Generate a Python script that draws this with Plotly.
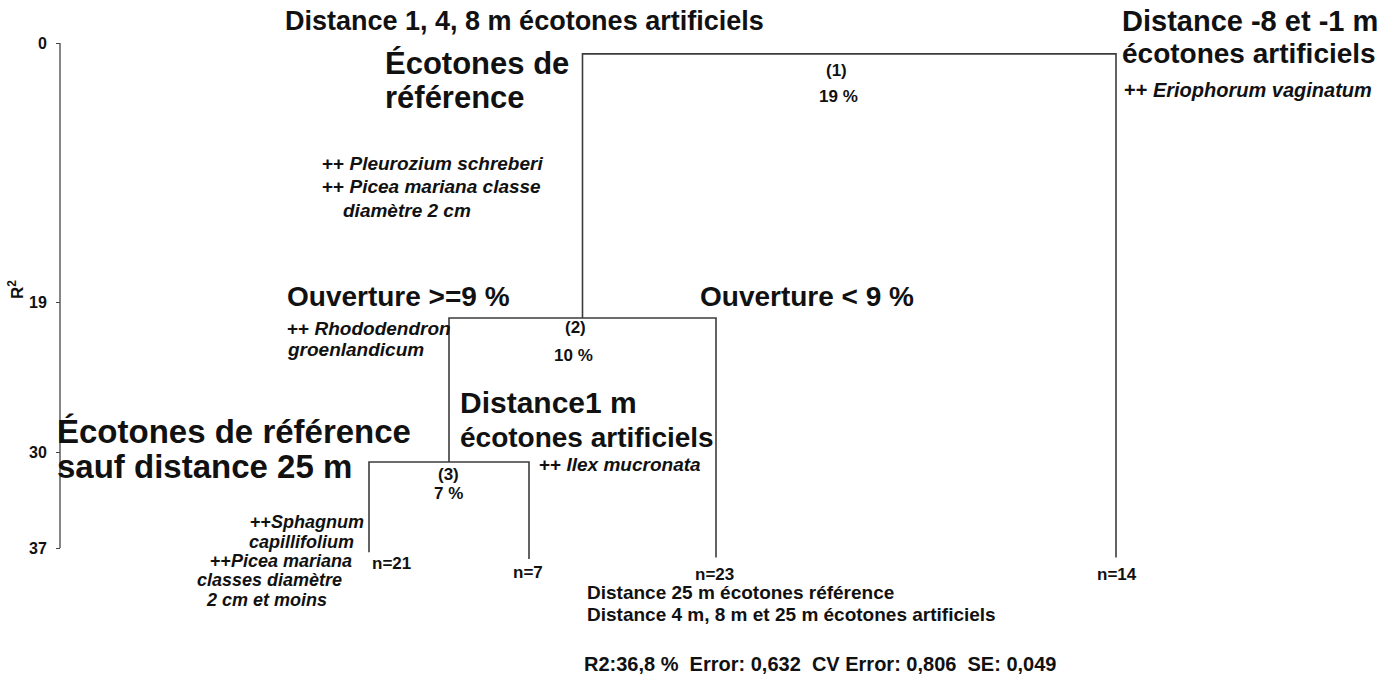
import plotly.graph_objects as go

# ---------------- data ----------------
leaf_labels = ["n=21", "n=7", "n=23", "n=14"]
leaf_r2 = [37.3, 37.8, 37.7, 37.7]          # bottom of each leaf branch (R2 scale)
node_names = ["(3)", "(2)", "(1)"]
node_r2 = [30.7, 20.15, 0.8]                 # height of each split (R2 scale)
node_pct = ["7 %", "10 %", "19 %"]
# children of each split: ('L', i) = leaf i, ('N', j) = split j
node_children = [(("L", 0), ("L", 1)), (("N", 0), ("L", 2)), (("N", 1), ("L", 3))]
r2_ticks = [0, 19, 30, 37]
r2_ticktext = ["0", "19", "30", "37"]
stats_text = "R2:36,8 %  Error: 0,632  CV Error: 0,806  SE: 0,049"

# ---------------- layout helpers ----------------
W, H = 1398, 682
leaf_pos = [369, 529, 716, 1116]   # horizontal placement of leaves (layout)
PX_PER_UNIT = 13.65
Y0_PX = 43
y_top = -Y0_PX / PX_PER_UNIT
y_bot = (H - Y0_PX) / PX_PER_UNIT
FONT = "Arial, Liberation Sans, sans-serif"
INK = "#111111"

# build dendrogram segments
node_x = []
xs, ys = [], []
def child_xy(c):
    kind, i = c
    if kind == "L":
        return leaf_pos[i], leaf_r2[i]
    return node_x[i], node_r2[i]

for j, (a, b) in enumerate(node_children):
    ax, ay = child_xy(a)
    bx, by = child_xy(b)
    h = node_r2[j]
    node_x.append((ax + bx) / 2)
    xs += [ax, ax, bx, bx, None]
    ys += [ay, h, h, by, None]

fig = go.Figure()
fig.add_trace(go.Scatter(x=xs, y=ys, mode="lines",
                         line=dict(color="#3c3c3c", width=1.6),
                         hoverinfo="skip", showlegend=False))

ann = []
def txt(text, px, py, size, xanchor="left", bold=True, italic=False):
    t = text
    if italic:
        t = "<i>" + t + "</i>"
    ann.append(dict(text=t, x=px / W, y=1 - py / H, xref="paper", yref="paper",
                    xanchor=xanchor, yanchor="middle", showarrow=False,
                    font=dict(family=FONT, size=size, color=INK,
                              weight="bold" if bold else "normal")))

# split labels (node number + percentage) from data
node_label_pos = [((448, 474), (449, 493)), ((575, 327), (573, 355)), ((836, 70), (838, 97))]
for j in range(len(node_names)):
    (nx, ny), (px_, py_) = node_label_pos[j]
    txt(node_names[j], nx, ny, 17, "center")
    txt(node_pct[j], px_, py_, 17, "center")

# leaf labels
leaf_label_pos = [(370, 563, "left"), (528, 572, "center"), (714, 574, "center"), (1117, 574, "center")]
for lab, (lx, ly, anc) in zip(leaf_labels, leaf_label_pos):
    txt(lab, lx, ly, 17, anc)

# headings
txt("Distance 1, 4, 8 m écotones artificiels", 283, 21, 27)
txt("Écotones de", 383, 63, 31)
txt("référence", 383, 98, 31)
txt("Distance -8 et -1 m", 1120, 21, 29)
txt("écotones artificiels", 1120, 53, 28)
txt("++ <i>Eriophorum vaginatum</i>", 1122, 90, 20)

txt("++ <i>Pleurozium schreberi</i>", 320, 163, 19)
txt("++ <i>Picea mariana classe</i>", 320, 187, 19)
txt("<i>diamètre 2 cm</i>", 341, 211, 19)

txt("Ouverture >=9 %", 285, 296, 28)
txt("++ <i>Rhododendron</i>", 285, 328, 19)
txt("<i>groenlandicum</i>", 285, 349, 19)
txt("Ouverture < 9 %", 698, 296, 28)

txt("Distance1 m", 458, 402, 30)
txt("écotones artificiels", 458, 437, 28)
txt("++ <i>Ilex mucronata</i>", 703, 465, 19, "right")

txt("Écotones de référence", 55, 431, 33)
txt("sauf distance 25 m", 55, 467, 33)

txt("++<i>Sphagnum</i>", 366, 522, 18, "right")
txt("<i>capillifolium</i>", 356, 542, 18, "right")
txt("++<i>Picea mariana</i>", 354, 561, 18, "right")
txt("<i>classes diamètre</i>", 344, 580, 18, "right")
txt("<i>2 cm et moins</i>", 266, 600, 18, "center")

txt("Distance 25 m écotones référence", 585, 592, 19)
txt("Distance 4 m, 8 m et 25 m écotones artificiels", 585, 614, 19)
txt(stats_text, 582, 664, 20)

# axis title
ann.append(dict(text="R<sup>2</sup>", x=16 / W, y=1 - 290 / H, xref="paper", yref="paper",
                textangle=-90, showarrow=False, xanchor="center", yanchor="middle",
                font=dict(family=FONT, size=17, color=INK, weight="bold")))

fig.update_layout(
    width=W, height=H,
    margin=dict(l=0, r=0, t=0, b=0),
    paper_bgcolor="white", plot_bgcolor="white",
    showlegend=False,
    annotations=ann,
    xaxis=dict(range=[0, W], visible=False, domain=[0, 1]),
    yaxis=dict(range=[y_bot, y_top], anchor="free", position=60 / W, side="left",
               tickvals=r2_ticks, ticktext=r2_ticktext, ticks="outside",
               ticklen=4, tickwidth=1.2, tickcolor="#444", ticklabelstandoff=6,
               showline=False, showgrid=False, zeroline=False,
               tickfont=dict(family=FONT, size=16, color=INK, weight="bold")),
    shapes=[dict(type="line", xref="x", yref="y", x0=60, x1=60, y0=r2_ticks[0], y1=r2_ticks[-1],
                 line=dict(color="#444", width=1.3))],
)

fig.write_html("out.html", config={"displayModeBar": False},
               post_script="document.body.style.margin='0';document.body.style.overflow='hidden';")
